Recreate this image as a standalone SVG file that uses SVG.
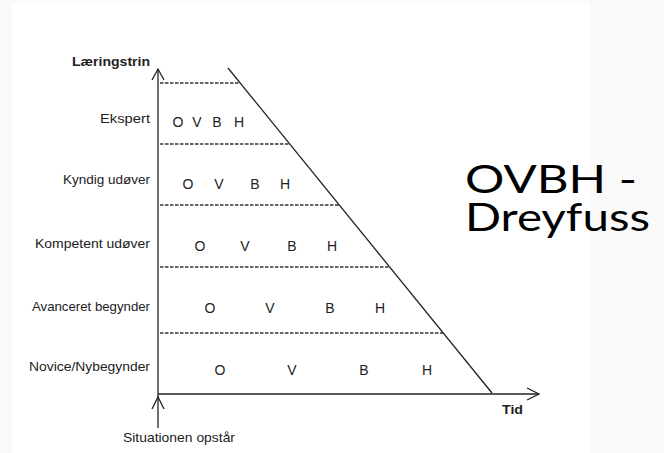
<svg xmlns="http://www.w3.org/2000/svg" width="664" height="453" viewBox="0 0 664 453">
<style>
.ln{stroke:#222;stroke-width:1.3;fill:none}
.ds{stroke:#333;stroke-width:1.3;stroke-dasharray:3.5 1.5;fill:none}
.lb{font-family:"Liberation Sans",Arial,sans-serif;font-size:13px;fill:#222;text-anchor:end}
.lc{font-family:"Liberation Sans",Arial,sans-serif;font-size:13px;fill:#222;text-anchor:start}
.lt{font-family:"Liberation Sans",Arial,sans-serif;font-size:14px;fill:#222;text-anchor:middle}
.ax{font-family:"Liberation Sans",Arial,sans-serif;font-size:13px;font-weight:bold;fill:#222}
.ti{font-family:Lato,"Open Sans","Liberation Sans",sans-serif;font-size:39px;fill:#000}
</style>
<rect x="0" y="0" width="664" height="453" fill="#fafafa"/>
<rect x="12" y="3" width="578" height="450" fill="#ffffff"/>
<g id="connectors">
<line class="ln" x1="158" y1="69" x2="158" y2="428"/>
<polyline class="ln" points="152,80 158,69 164,80"/>
<polyline class="ln" points="152,409 158,397 164,409"/>
<line class="ln" x1="158" y1="394" x2="539" y2="394"/>
<polyline class="ln" points="527,388 539,394 527,400"/>
<line class="ln" x1="228" y1="68" x2="492" y2="393"/>
<line class="ds" x1="160" y1="83" x2="240" y2="83"/>
<line class="ds" x1="160" y1="144" x2="290" y2="144"/>
<line class="ds" x1="160" y1="205" x2="339" y2="205"/>
<line class="ds" x1="160" y1="267" x2="390" y2="267"/>
<line class="ds" x1="160" y1="333" x2="444" y2="333"/>
</g>
<g id="axis-labels">
<text class="ax" x="150" y="66" text-anchor="end" textLength="78" lengthAdjust="spacingAndGlyphs">Læringstrin</text>
<text class="ax" x="502" y="414" textLength="21" lengthAdjust="spacingAndGlyphs">Tid</text>
<text class="lc" x="123" y="442" textLength="112" lengthAdjust="spacingAndGlyphs">Situationen opstår</text>
</g>
<g id="level-ekspert">
<text class="lb" x="150" y="123" textLength="50" lengthAdjust="spacingAndGlyphs">Ekspert</text>
<text class="lt" x="178" y="127">O</text><text class="lt" x="197" y="127">V</text><text class="lt" x="217" y="127">B</text><text class="lt" x="239" y="127">H</text>
</g>
<g id="level-kyndig">
<text class="lb" x="150" y="184" textLength="87" lengthAdjust="spacingAndGlyphs">Kyndig udøver</text>
<text class="lt" x="188" y="189">O</text><text class="lt" x="219" y="189">V</text><text class="lt" x="255" y="189">B</text><text class="lt" x="285" y="189">H</text>
</g>
<g id="level-kompetent">
<text class="lb" x="150" y="248" textLength="115" lengthAdjust="spacingAndGlyphs">Kompetent udøver</text>
<text class="lt" x="200" y="251">O</text><text class="lt" x="245" y="251">V</text><text class="lt" x="292" y="251">B</text><text class="lt" x="332" y="251">H</text>
</g>
<g id="level-avanceret">
<text class="lb" x="150" y="311" textLength="118" lengthAdjust="spacingAndGlyphs">Avanceret begynder</text>
<text class="lt" x="210" y="313">O</text><text class="lt" x="270" y="313">V</text><text class="lt" x="330" y="313">B</text><text class="lt" x="380" y="313">H</text>
</g>
<g id="level-novice">
<text class="lb" x="150" y="371" textLength="121" lengthAdjust="spacingAndGlyphs">Novice/Nybegynder</text>
<text class="lt" x="220" y="375">O</text><text class="lt" x="292" y="375">V</text><text class="lt" x="364" y="375">B</text><text class="lt" x="427" y="375">H</text>
</g>
<g id="title">
<text class="ti" x="465" y="193" textLength="172" lengthAdjust="spacingAndGlyphs">OVBH -</text>
<text class="ti" x="465" y="231" textLength="185" lengthAdjust="spacingAndGlyphs">Dreyfuss</text>
</g>
</svg>
